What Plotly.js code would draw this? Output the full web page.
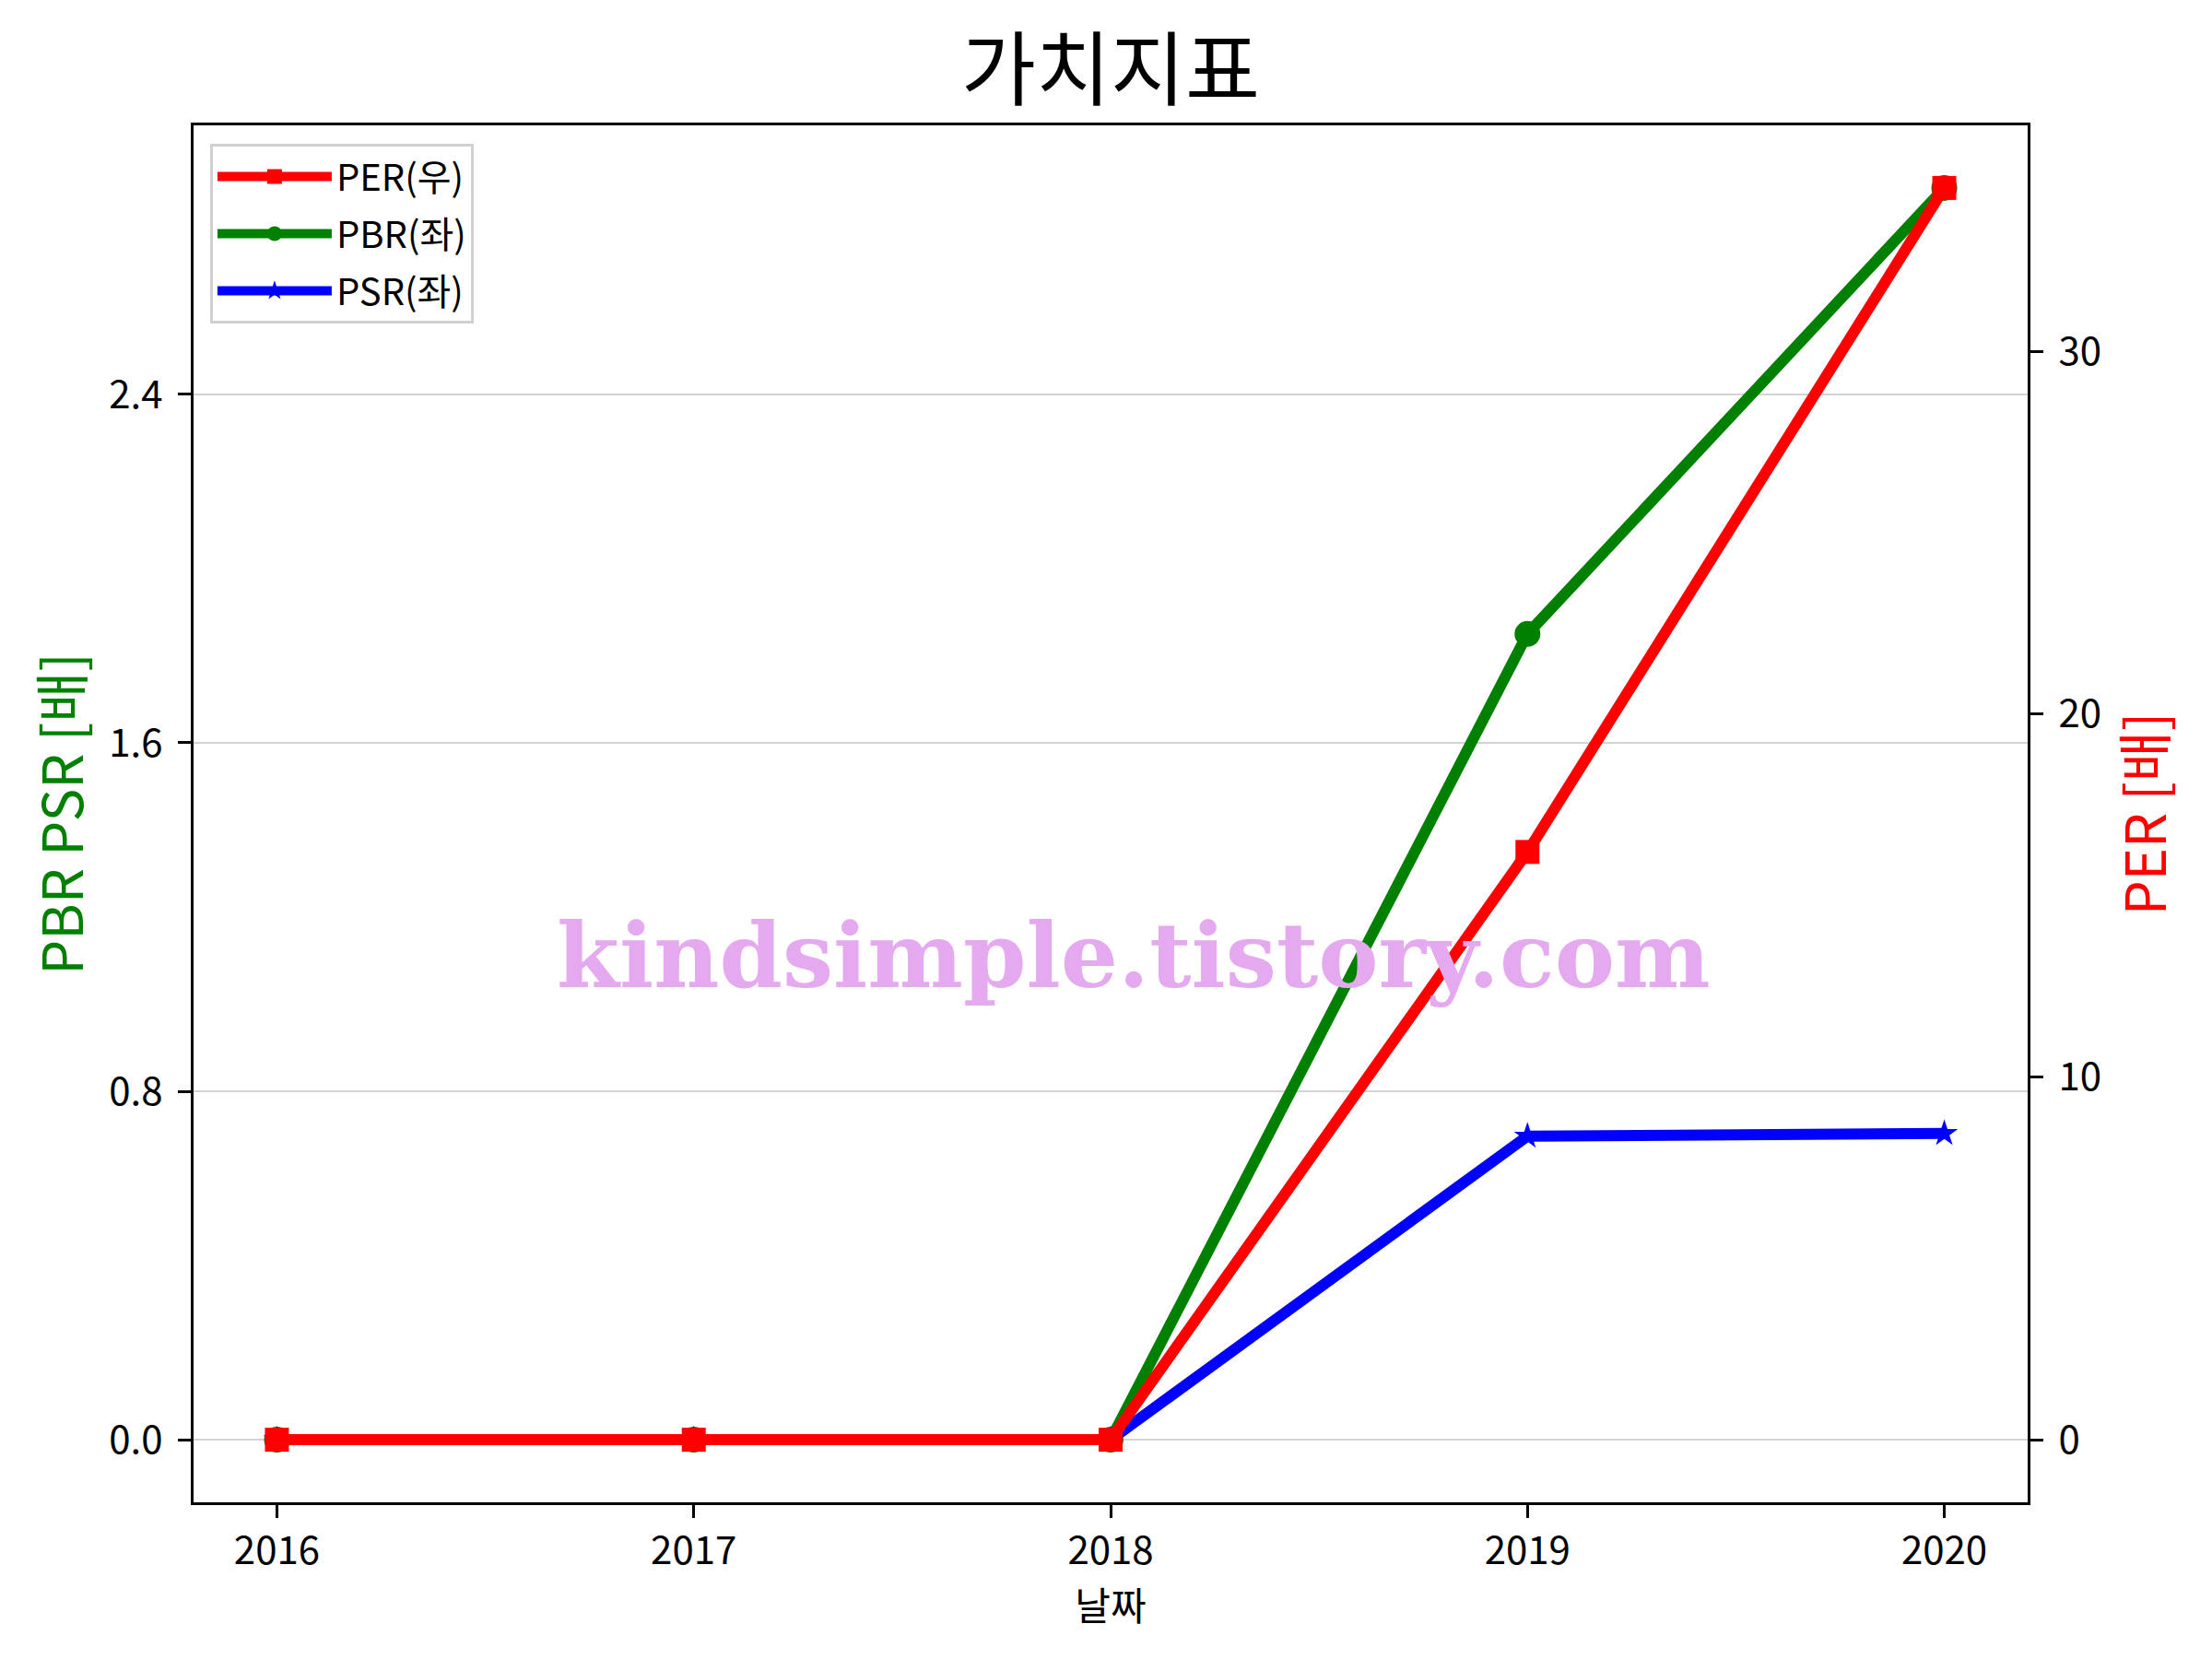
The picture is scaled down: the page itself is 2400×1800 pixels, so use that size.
<!DOCTYPE html>
<html>
<head>
<meta charset="utf-8">
<script src="https://cdn.plot.ly/plotly-3.0.1.min.js"></script>
<style>html,body{margin:0;padding:0;background:#fff;}#chart{width:2400px;height:1800px;}</style>
</head>
<body>
<div id="chart"></div>
<script>
const years = [2016, 2017, 2018, 2019, 2020];
const perValues = [0, 0, 0, 16.2, 34.5];
const pbrValues = [0, 0, 0, 1.85, 2.874];
const psrValues = [0, 0, 0, 0.697, 0.703];
const seriesNames = ['PER(우)', 'PBR(좌)', 'PSR(좌)'];
const leftTicks = [0, 0.8, 1.6, 2.4];
const rightTicks = [0, 10, 20, 30];

const FONT = '"Noto Sans CJK KR", "Noto Sans", sans-serif';

const traces = [
  {x: years, y: perValues, name: seriesNames[0], yaxis: 'y2', mode: 'lines+markers', legendgroup: 'g1',
   line: {color: '#ff0000', width: 12}, marker: {symbol: 'square', size: 26, color: '#ff0000'}},
  {x: years, y: pbrValues, name: seriesNames[1], yaxis: 'y', mode: 'lines+markers', legendgroup: 'g2',
   line: {color: '#008000', width: 12}, marker: {symbol: 'circle', size: 28, color: '#008000'}},
  {x: years, y: psrValues, name: seriesNames[2], yaxis: 'y', mode: 'lines+markers', legendgroup: 'g3',
   line: {color: '#0000ff', width: 12}, marker: {symbol: 'star', size: 22, color: '#0000ff'}}
];

function pad(arr, frac) {
  const mn = Math.min(...arr), mx = Math.max(...arr);
  const d = (mx - mn) * frac;
  return [mn - d, mx + d];
}

const layout = {
  width: 2400, height: 1800,
  paper_bgcolor: '#ffffff', plot_bgcolor: '#ffffff',
  margin: {l: 210, r: 200, t: 136, b: 170, pad: 0},
  font: {family: FONT, size: 42, color: '#000000'},
  showlegend: true,
  title: {text: '가치지표', font: {family: FONT, size: 88, color: '#000000'},
          x: 0.5, xref: 'paper', xanchor: 'center', y: 1 - 76 / 1800, yref: 'container', yanchor: 'middle'},
  xaxis: {
    range: pad(years, 0.05), tickvals: years, ticktext: years.map(String),
    showgrid: false, zeroline: false,
    showline: true, linecolor: '#000', linewidth: 3, mirror: true,
    ticks: 'outside', ticklen: 14, tickwidth: 3, tickcolor: '#000',
    tickfont: {family: FONT, size: 42, color: '#000'}, ticklabelstandoff: 0,
    title: {text: '날짜', font: {family: FONT, size: 42, color: '#000'}, standoff: 8}
  },
  yaxis: {
    range: pad(pbrValues.concat(psrValues), 0.05), tickvals: leftTicks, ticktext: leftTicks.map(v => v.toFixed(1)),
    showgrid: true, gridcolor: '#d3d3d3', gridwidth: 2, zeroline: false,
    showline: true, linecolor: '#000', linewidth: 3,
    ticks: 'outside', ticklen: 14, tickwidth: 3, tickcolor: '#000',
    tickfont: {family: FONT, size: 42, color: '#000'}, ticklabelstandoff: 8,
    title: {text: 'PBR PSR [배]', font: {family: FONT, size: 60, color: '#008000'}, standoff: 9}
  },
  yaxis2: {
    overlaying: 'y', side: 'right',
    range: pad(perValues, 0.05), tickvals: rightTicks, ticktext: rightTicks.map(String),
    showgrid: false, zeroline: false,
    showline: true, linecolor: '#000', linewidth: 3,
    ticks: 'outside', ticklen: 14, tickwidth: 3, tickcolor: '#000',
    tickfont: {family: FONT, size: 42, color: '#000'}, ticklabelstandoff: 8,
    title: {text: 'PER [배]', font: {family: FONT, size: 60, color: '#ff0000'}, standoff: 11}
  },
  legend: {
    x: 0.009, y: 0.9866, xanchor: 'left', yanchor: 'top',
    bgcolor: '#ffffff', bordercolor: '#d0d0d0', borderwidth: 3,
    font: {family: FONT, size: 40, color: '#000'}, itemwidth: 124, tracegroupgap: 7
  },
  annotations: [{
    text: '<b>kindsimple.tistory.com</b>', xref: 'paper', yref: 'paper',
    x: 0.5126, y: 0.397, xanchor: 'center', yanchor: 'middle', showarrow: false,
    font: {family: '"DejaVu Serif", serif', size: 98, color: '#e4a9ee'}
  }]
};

Plotly.newPlot('chart', traces, layout, {displayModeBar: false, staticPlot: true});
</script>
</body>
</html>
